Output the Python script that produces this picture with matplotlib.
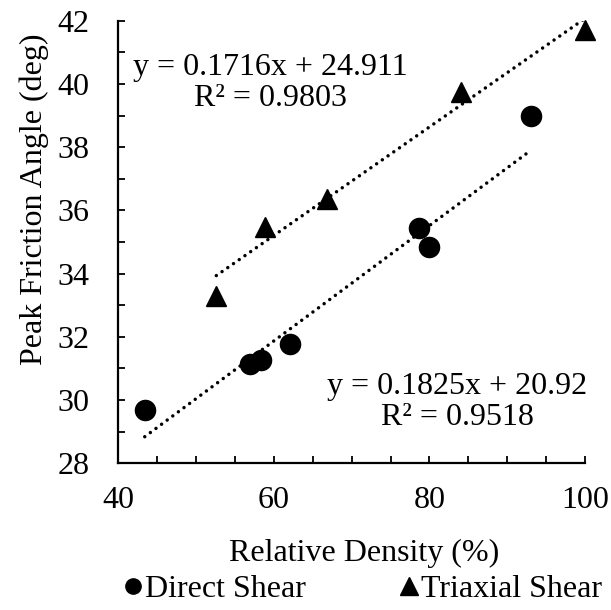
import matplotlib
matplotlib.use("Agg")
import matplotlib.pyplot as plt
import numpy as np
from matplotlib.lines import Line2D

plt.rcParams['font.family'] = ['Liberation Serif', 'DejaVu Serif']

# Data
direct_x = [43.4, 56.9, 58.3, 62.1, 78.6, 80.0, 93.0]
direct_y = [29.7, 31.13, 31.27, 31.78, 35.45, 34.85, 39.0]
triax_x = [52.6, 58.9, 66.8, 84.0, 100.0]
triax_y = [33.3, 35.48, 36.37, 39.76, 41.72]

direct_fit = [0.1825, 20.92]   # slope, intercept
direct_r2 = 0.9518
triax_fit = [0.1716, 24.911]
triax_r2 = 0.9803

W, H = 611, 610
fig = plt.figure(figsize=(W / 100, H / 100), dpi=100)
L, R, T, B = 118.3, 585.0, 20.7, 463.3
ax = fig.add_axes([L / W, 1 - B / H, (R - L) / W, (B - T) / H])

FS = 23
dot = dict(color='black', lw=2.5, linestyle=(0, (0.01, 2.0)), dash_capstyle='round')

# Trendlines
for xs, (m, c) in ((direct_x, direct_fit), (triax_x, triax_fit)):
    xl = np.array([min(xs), max(xs)])
    ax.plot(xl, m * xl + c, **dot, zorder=2)

ax.plot(direct_x, direct_y, 'o', color='black', ms=14.5, clip_on=False, zorder=3)
ax.plot(triax_x, triax_y, '^', color='black', ms=15, clip_on=False, zorder=3)

ax.set_xlim(40, 100)
ax.set_ylim(28, 42)
ax.set_xticks([40, 60, 80, 100])
ax.set_xticks(np.arange(40, 101, 5), minor=True)
ax.set_yticks(np.arange(28, 43, 2))
ax.set_yticks(np.arange(28, 43, 1), minor=True)

for s in ('top', 'right'):
    ax.spines[s].set_visible(False)
for s in ('left', 'bottom'):
    ax.spines[s].set_linewidth(1.6)

ax.tick_params(axis='both', which='both', direction='in', length=5, width=1.3)
ax.tick_params(axis='x', which='major', labelsize=FS, pad=16)
ax.tick_params(axis='y', which='major', labelsize=FS, pad=21)

def px(x, y):
    return x / W, 1 - y / H

fig.text(*px(34, 199), 'Peak Friction Angle (deg)', rotation=90, ha='center', va='center', fontsize=FS)
fig.text(*px(364, 561), 'Relative Density (%)', ha='center', va='baseline', fontsize=FS)

fig.text(*px(270, 83), f'y = {triax_fit[0]}x + {triax_fit[1]}\nR² = {triax_r2}',
         ha='center', va='center', multialignment='center', fontsize=FS, linespacing=1.05)
fig.text(*px(457, 402), f'y = {direct_fit[0]}x + {direct_fit[1]}\nR² = {direct_r2}',
         ha='center', va='center', multialignment='center', fontsize=FS, linespacing=1.05)

handles = [Line2D([], [], marker='o', color='black', ls='none', ms=11),
           Line2D([], [], marker='^', color='black', ls='none', ms=12.5)]
fig.legend(handles, ['Direct Shear', 'Triaxial Shear'], loc='center',
           bbox_to_anchor=px(363.5, 589), ncol=2, frameon=False, fontsize=FS,
           handlelength=0.5, handletextpad=0.12, columnspacing=3.0,
           borderpad=0, borderaxespad=0)

fig.savefig('out.png', dpi=100)
